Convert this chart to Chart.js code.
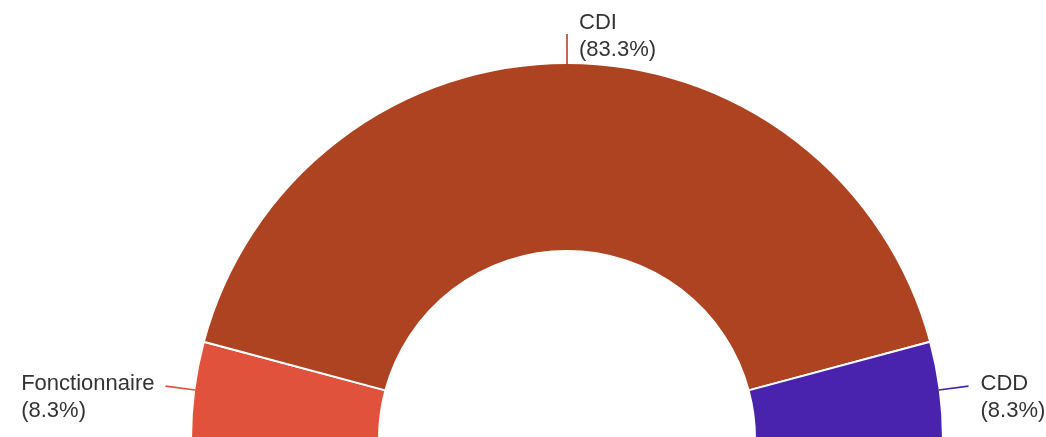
<!DOCTYPE html>
<html>
<head>
<meta charset="utf-8">
<script src="https://cdn.jsdelivr.net/npm/chart.js@4"></script>
<style>
    html, body { margin: 0; padding: 0; overflow: hidden; background: #fff; }
    #wrap { position: relative; width: 1046px; height: 450px; }
</style>
</head>
<body>
<div id="wrap"><canvas id="contratChart"></canvas></div>
<script>
const categories = ['Fonctionnaire', 'CDI', 'CDD'];
const counts = [1, 10, 1];
const sliceColors = ['#e0523b', '#ae4321', '#4922ae'];

// labels outside the ring with a short leader line, like the original
const outsideLabels = {
    id: 'outsideLabels',
    afterDatasetsDraw(chart) {
        const ctx = chart.ctx;
        const meta = chart.getDatasetMeta(0);
        const total = counts.reduce((a, b) => a + b, 0);
        ctx.save();
        ctx.font = '22px Arial, "Liberation Sans", sans-serif';
        ctx.fillStyle = '#333333';
        ctx.textBaseline = 'alphabetic';
        ctx.textAlign = 'left';
        meta.data.forEach((arc, i) => {
            const p = arc.getProps(['x', 'y', 'startAngle', 'endAngle', 'outerRadius'], true);
            const mid = (p.startAngle + p.endAngle) / 2;
            const cos = Math.cos(mid), sin = Math.sin(mid);
            const x1 = p.x + cos * (p.outerRadius - 1), y1 = p.y + sin * (p.outerRadius - 1);
            const x2 = p.x + cos * (p.outerRadius + 29), y2 = p.y + sin * (p.outerRadius + 29);
            ctx.strokeStyle = sliceColors[i];
            ctx.lineWidth = 1.6;
            ctx.beginPath();
            ctx.moveTo(x1, y1);
            ctx.lineTo(x2, y2);
            ctx.stroke();

            const pct = '(' + (counts[i] / total * 100).toFixed(1) + '%)';
            let tx, ty;
            if (cos < -0.5) {
                // block sits left of the line, both lines flush left
                const w = Math.max(ctx.measureText(categories[i]).width, ctx.measureText(pct).width);
                tx = x2 - 11 - w;
                ty = y2 + 4;
            } else if (cos > 0.5) {
                tx = x2 + 12;
                ty = y2 + 4;
            } else {
                tx = x2 + 12;
                ty = y2 - 5;
            }
            ctx.fillText(categories[i], tx, ty);
            ctx.fillText(pct, tx, ty + 27);
        });
        ctx.restore();
    }
};

new Chart(document.getElementById('contratChart'), {
    type: 'doughnut',
    data: {
        labels: categories,
        datasets: [{
            data: counts,
            backgroundColor: sliceColors,
            borderColor: '#ffffff',
            borderWidth: 2,
            hoverOffset: 0
        }]
    },
    options: {
        responsive: true,
        maintainAspectRatio: false,
        animation: false,
        rotation: -90,
        circumference: 180,
        cutout: '50%',
        layout: {
            padding: { top: 62, bottom: 10, left: 167, right: 79 }
        },
        plugins: {
            legend: { display: false },
            tooltip: { enabled: false }
        }
    },
    plugins: [outsideLabels]
});
</script>
</body>
</html>
